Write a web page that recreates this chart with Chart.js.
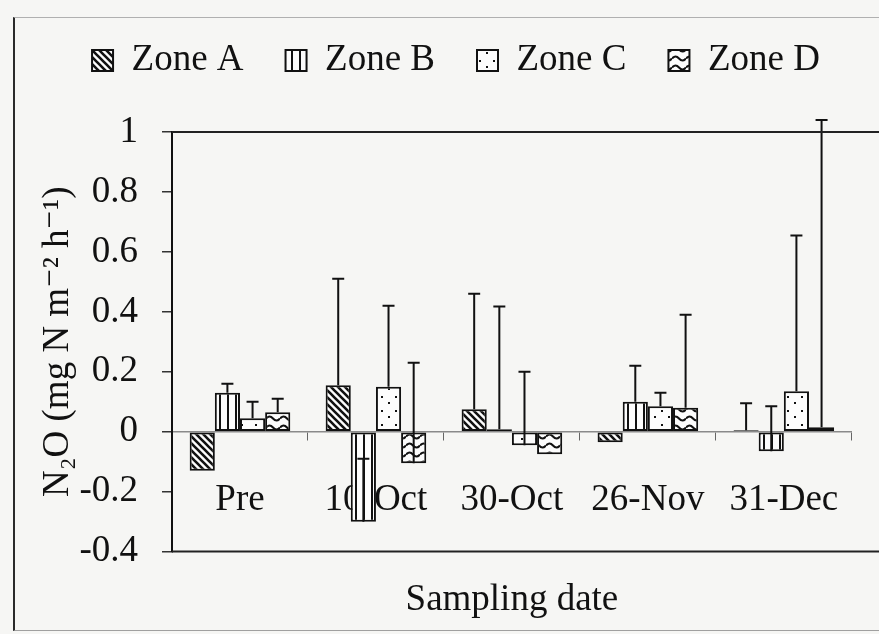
<!DOCTYPE html>
<html lang="en">
<head>
    <meta charset="UTF-8">
    <title>N2O by zone</title>
    <script src="https://cdn.jsdelivr.net/npm/chart.js@4.4.1/dist/chart.umd.min.js"></script>
    <style>
        body { margin: 0; background: #f6f6f4; }
        #wrap { position: relative; width: 879px; height: 634px; overflow: hidden; }
        #frame { position: absolute; left: 13px; top: 17px; width: 900px; height: 612px;
                 border-left: 2px solid #2a2a2a; border-top: 1px solid #b0b0b0; border-bottom: 1px solid #a0a0a0; }
        canvas { position: absolute; left: 0; top: 0; }
    </style>
</head>
<body>
    <div id="wrap">
        <div id="frame"></div>
        <canvas id="chart" width="879" height="634"></canvas>
    </div>

    <script>
        // sampling dates
        var dates = ["Pre", "10-Oct", "30-Oct", "26-Nov", "31-Dec"]
        var zones = ["Zone A", "Zone B", "Zone C", "Zone D"]

        // mean flux, mg N m-2 h-1
        var zoneA = [-0.13, 0.155, 0.075, -0.035, 0.005]
        var zoneB = [0.13, -0.30, 0.008, 0.10, -0.065]
        var zoneC = [0.045, 0.15, -0.045, 0.085, 0.135]
        var zoneD = [0.065, -0.105, -0.075, 0.08, 0.015]

        // error bars (drawn upward from the bar end), 0 = none visible
        var sdA = [0, 0.355, 0.385, 0, 0.09]
        var sdB = [0.03, 0.21, 0.41, 0.12, 0.15]
        var sdC = [0.055, 0.27, 0.245, 0.045, 0.52]
        var sdD = [0.045, 0.335, 0, 0.31, 1.025]

        var yTicks = [-0.4, -0.2, 0, 0.2, 0.4, 0.6, 0.8, 1]
    </script>
    <script>
        // fill patterns, like the old b/w excel ones
        function makePattern(kind) {
            var c = document.createElement('canvas');
            var g = c.getContext('2d');
            var w = 7, h = 7;
            if (kind == 'vert') { w = 8; h = 8; }
            if (kind == 'dots') { w = 14; h = 14; }
            if (kind == 'wave') { w = 14; h = 9; }
            c.width = w; c.height = h;
            g.fillStyle = '#fcfcfc';
            g.fillRect(0, 0, w, h);
            g.strokeStyle = '#111';
            g.fillStyle = '#111';
            if (kind == 'diag') {
                g.lineWidth = 2.6;
                g.beginPath();
                g.moveTo(-2, -2); g.lineTo(w + 2, h + 2);
                g.moveTo(-2, h - 2); g.lineTo(2, h + 2);
                g.moveTo(w - 2, -2); g.lineTo(w + 2, 2);
                g.stroke();
            } else if (kind == 'vert') {
                g.lineWidth = 2;
                g.beginPath();
                g.moveTo(4, 0); g.lineTo(4, h);
                g.stroke();
            } else if (kind == 'dots') {
                g.fillRect(3, 4, 2, 2);
                g.fillRect(10, 10, 2, 2);
            } else if (kind == 'wave') {
                g.lineWidth = 2;
                g.beginPath();
                g.moveTo(0, 4.5);
                g.quadraticCurveTo(3.5, 0.5, 7, 4.5);
                g.quadraticCurveTo(10.5, 8.5, 14, 4.5);
                g.stroke();
            }
            return document.getElementById('chart').getContext('2d').createPattern(c, 'repeat');
        }

        var serif = '"Liberation Serif", "DejaVu Serif", serif';
        Chart.defaults.font.family = serif;
        Chart.defaults.color = '#111';

        // makes the legend box tall enough to push the plot down
        var legendSpace = {
            id: 'legendSpace',
            beforeInit: function(chart) {
                var fit = chart.legend.fit;
                chart.legend.fit = function() {
                    fit.call(this);
                    this.height = 132;
                };
            }
        };

        var errorBars = {
            id: 'errorBars',
            afterDatasetsDraw: function(chart) {
                var ctx = chart.ctx;
                var y = chart.scales.y;
                ctx.save();
                ctx.strokeStyle = '#111';
                ctx.lineWidth = 2;
                chart.data.datasets.forEach(function(ds, i) {
                    var meta = chart.getDatasetMeta(i);
                    meta.data.forEach(function(bar, j) {
                        var sd = ds.sd[j];
                        if (!sd) return;
                        var y0 = y.getPixelForValue(ds.data[j]);
                        var y1 = y.getPixelForValue(ds.data[j] + sd);
                        ctx.beginPath();
                        ctx.moveTo(bar.x, y0); ctx.lineTo(bar.x, y1);
                        ctx.moveTo(bar.x - 6, y1); ctx.lineTo(bar.x + 6, y1);
                        ctx.stroke();
                    });
                });
                ctx.restore();
            }
        };

        // top and bottom edges of the plot box
        var plotBox = {
            id: 'plotBox',
            afterDraw: function(chart) {
                var a = chart.chartArea, ctx = chart.ctx;
                ctx.save();
                ctx.strokeStyle = '#222';
                ctx.lineWidth = 2;
                ctx.beginPath();
                ctx.moveTo(a.left, a.top); ctx.lineTo(879, a.top);
                ctx.moveTo(a.left, a.bottom); ctx.lineTo(879, a.bottom);
                ctx.stroke();
                ctx.restore();
            }
        };

        var fills = [makePattern('diag'), makePattern('vert'), makePattern('dots'), makePattern('wave')];
        var values = [zoneA, zoneB, zoneC, zoneD];
        var sds = [sdA, sdB, sdC, sdD];

        var datasets = [];
        for (var i = 0; i < zones.length; i++) {
            datasets.push({
                label: zones[i],
                data: values[i],
                sd: sds[i],
                backgroundColor: fills[i],
                borderColor: '#111',
                borderWidth: 2,
                borderSkipped: false,
                categoryPercentage: 0.74,
                barPercentage: 1
            });
        }

        var ctx = document.getElementById('chart').getContext('2d');
        var myChart = new Chart(ctx, {
            type: 'bar',
            data: { labels: dates, datasets: datasets },
            plugins: [legendSpace, errorBars, plotBox],
            options: {
                responsive: false,
                animation: false,
                layout: { padding: { left: 36, right: 3, top: 0, bottom: 12 } },
                plugins: {
                    legend: {
                        labels: {
                            font: { size: 37 },
                            boxWidth: 21,
                            boxHeight: 21,
                            padding: 42
                        }
                    },
                    title: {
                        display: true,
                        position: 'bottom',
                        fullSize: false,
                        text: 'Sampling date',
                        font: { size: 37, weight: 'normal' },
                        padding: { top: 26, bottom: 0 }
                    },
                    tooltip: { enabled: false }
                },
                scales: {
                    x: {
                        position: { y: 0 },
                        grid: { drawOnChartArea: false, tickLength: 8, color: '#666', lineWidth: 1 },
                        border: { display: true, color: '#8a8a8a', width: 1.5, dash: [5, 3] },
                        ticks: { font: { size: 37 }, padding: 38, color: '#111', maxRotation: 0 }
                    },
                    y: {
                        min: -0.4,
                        max: 1,
                        afterFit: function(scale) { scale.width = 136; },
                        afterBuildTicks: function(scale) {
                            scale.ticks = yTicks.map(function(v) { return { value: v }; });
                        },
                        grid: { drawOnChartArea: false, tickLength: 10, color: '#333', lineWidth: 1.5 },
                        border: { display: true, color: '#111', width: 2 },
                        ticks: {
                            font: { size: 37 },
                            padding: 24,
                            callback: function(v) { return String(Number(v.toFixed(1))); }
                        },
                        title: {
                            display: true,
                            text: 'N\u2082O (mg N m\u207B\u00B2 h\u207B\u00B9)',
                            font: { size: 37 },
                            padding: 0
                        }
                    }
                }
            }
        });
    </script>
</body>
</html>
